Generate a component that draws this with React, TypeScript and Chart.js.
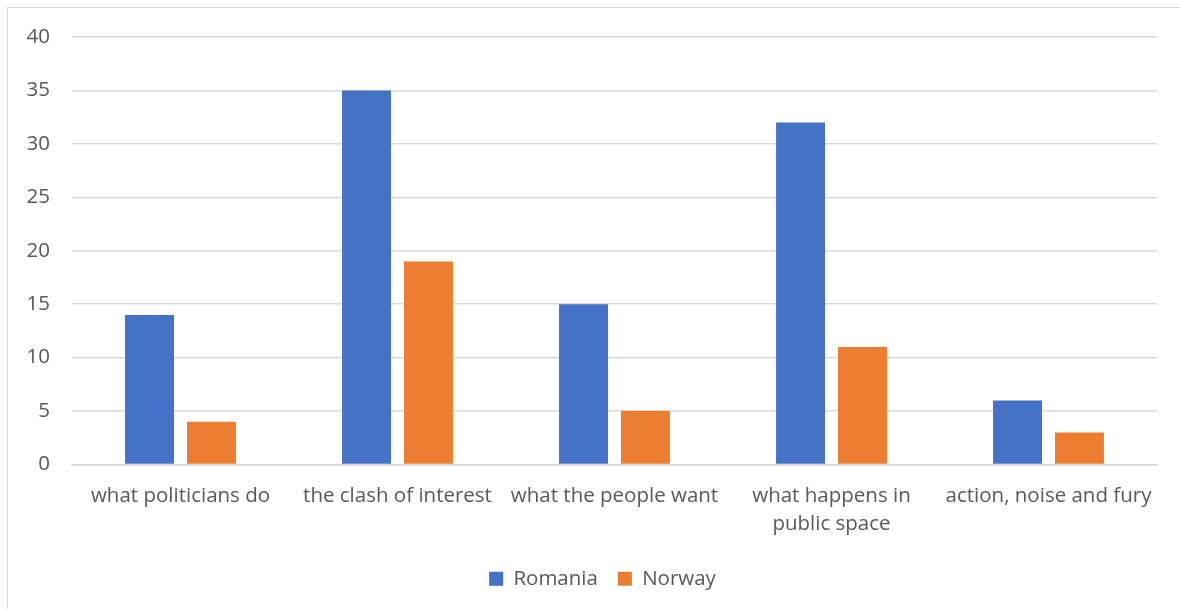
import React, { useEffect, useRef } from "react";
import { Chart, registerables } from "chart.js";

Chart.register(...registerables);

const categories: (string | string[])[] = [
  "what politicians do",
  "the clash of interest",
  "what the people want",
  ["what happens in", "public space"],
  "action, noise and fury",
];
const romania = [14, 35, 15, 32, 6];
const norway = [4, 19, 5, 11, 3];
const seriesNames = ["Romania", "Norway"];

const FONT = "'Open Sans', sans-serif";
const TEXT = "#595959";
const FS = 20.5;

const legendShift = {
  id: "legendShift",
  afterLayout(chart: any) {
    const l = chart.legend;
    if (l) {
      l.left += 24;
      l.right += 24;
      l.top += 2;
      l.bottom += 2;
    }
  },
};

export default function App() {
  const ref = useRef<HTMLCanvasElement>(null);
  useEffect(() => {
    if (!ref.current) return;
    const chart = new Chart(ref.current, {
      type: "bar",
      data: {
        labels: categories,
        datasets: [
          { label: seriesNames[0], data: romania, backgroundColor: "#4472C4" },
          { label: seriesNames[1], data: norway, backgroundColor: "#ED7D31" },
        ],
      },
      plugins: [legendShift],
      options: {
        animation: false,
        responsive: false,
        maintainAspectRatio: false,
        layout: { padding: { top: 37, right: 23, left: 0, bottom: 12 } },
        datasets: { bar: { categoryPercentage: 0.571, barPercentage: 0.79 } },
        plugins: {
          tooltip: { enabled: false },
          legend: {
            position: "bottom",
            labels: {
              color: TEXT,
              font: { family: FONT, size: FS },
              boxWidth: 14,
              boxHeight: 14,
              padding: 20,
            },
          },
        },
        scales: {
          x: {
            grid: { display: false, drawTicks: false },
            border: { display: true, color: "#d9d9d9", width: 1.5 },
            ticks: {
              color: TEXT,
              font: { family: FONT, size: FS, lineHeight: 1.36 },
              padding: 18,
              maxRotation: 0,
              autoSkip: false,
            },
            afterFit: (s: any) => {
              s.height = 82;
            },
          },
          y: {
            min: 0,
            max: 40,
            grid: { color: "#d9d9d9", lineWidth: 1.5, drawTicks: false },
            border: { display: false },
            ticks: {
              stepSize: 5,
              color: TEXT,
              font: { family: FONT, size: FS },
              padding: 22,
            },
            afterFit: (s: any) => {
              s.width = 72;
            },
          },
        },
      },
    });
    return () => chart.destroy();
  }, []);

  return (
    <div style={{ position: "absolute", left: 0, top: 0, width: 1180, height: 609, background: "#fff", overflow: "hidden" }}>
      <div
        style={{
          position: "absolute",
          left: 7,
          top: 7,
          width: 1200,
          height: 620,
          border: "1.5px solid #d9d9d9",
          boxSizing: "border-box",
        }}
      />
      <canvas ref={ref} width={1180} height={609} style={{ position: "absolute", left: 0, top: 0 }} />
    </div>
  );
}
